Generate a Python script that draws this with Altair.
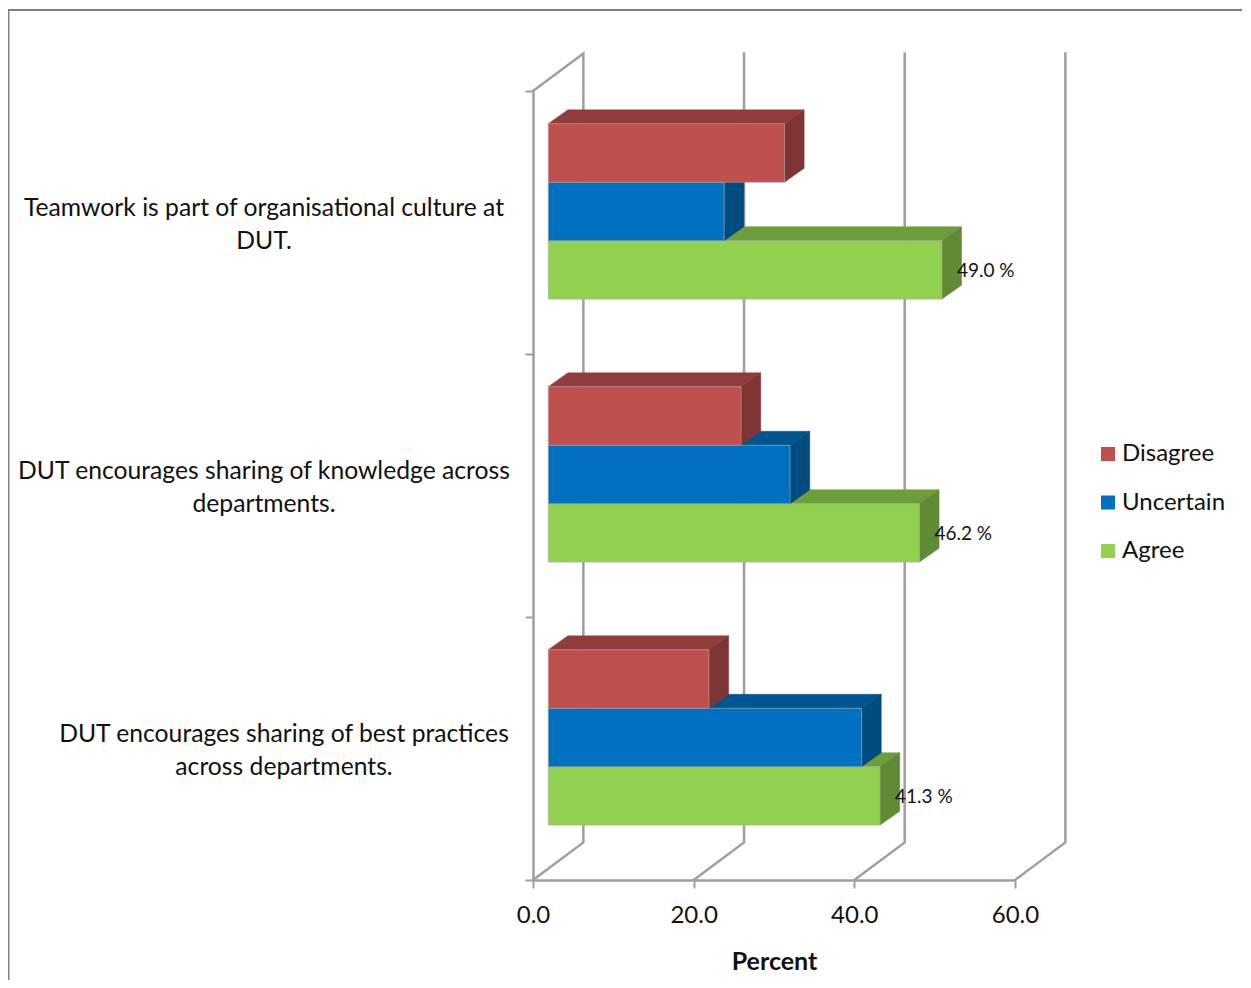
import altair as alt
import pandas as pd

# ---- values ----
questions = [
    "DUT encourages sharing of best practices|across departments.",
    "DUT encourages sharing of knowledge across|departments.",
    "Teamwork is part of organisational culture at|DUT.",
]
series = ["Disagree", "Uncertain", "Agree"]
disagree = [20.0, 24.0, 29.4]
uncertain = [39.0, 30.1, 21.9]
agree = [41.3, 46.2, 49.0]
x_ticks = [0, 20, 40, 60]
y_ticks = [0, 1, 2, 3]

front_colors = ["#C0504D", "#0070C0", "#92D050"]
top_colors = ["#8F3C3A", "#00548F", "#6E9E3C"]
side_colors = ["#7F3533", "#004B80", "#608A34"]

FONT = "Lato"
GREY = "#9F9F9F"
EDGE = "#A8A8A8"

# oblique projection, in scale units
WALL_DX, WALL_DY = 6.27, 0.143
FRONT_DX, FRONT_DY = 1.9, 0.042
BAR_DX, BAR_DY = 2.45, 0.053
BAR_H = 0.2222

W, H = 482, 789
xs = alt.Scale(domain=[0, 60], nice=False, zero=False)
ys = alt.Scale(domain=[0, 3], nice=False, zero=False)
axis_style = dict(domainColor=GREY, domainWidth=2.5, tickColor=GREY, tickWidth=2, tickSize=8, grid=False)
x_axis = alt.Axis(values=x_ticks, format=".1f", title="Percent", labelFont=FONT, labelFontSize=24,
                  labelColor="#111111", labelPadding=15, labelOverlap=False, labelFlush=False,
                  titleFont=FONT, titleFontSize=25, titleFontWeight="bold", titleColor="#111111",
                  titlePadding=22, **axis_style)
y_axis = alt.Axis(values=y_ticks, labels=False, title=None, **axis_style)
X = lambda f: alt.X(f, type="quantitative", scale=xs, axis=x_axis)
Y = lambda f: alt.Y(f, type="quantitative", scale=ys, axis=y_axis)

values = dict(zip(series, [disagree, uncertain, agree]))
rows = []
for s_i, s in enumerate(series):
    for q_i in range(3):
        c = q_i + 0.5 + FRONT_DY
        top = c + BAR_H * (1.5 - s_i)
        rows.append(dict(series=s, q=q_i, v=values[s][q_i], x0=FRONT_DX,
                         x1=FRONT_DX + values[s][q_i], y0=top - BAR_H, y1=top, yc=top - BAR_H / 2))
bars = pd.DataFrame(rows)

# back wall and floor lines
wall_rows = []
for t in x_ticks:
    pts = [(t, 0), (t + WALL_DX, WALL_DY), (t + WALL_DX, 3 + WALL_DY)]
    if t == 0:
        pts.append((0, 3))
    for o, (px, py) in enumerate(pts):
        wall_rows.append(dict(t=t, o=o, x=px, y=py))
walls = alt.Chart(pd.DataFrame(wall_rows)).mark_line(color=GREY, strokeWidth=2.5, strokeCap="square", strokeJoin="miter").encode(
    x=X("x"), y=Y("y"), detail="t:N", order="o:Q")

layers = [walls]
for s in reversed(series):
    i = series.index(s)
    d = bars[bars.series == s]
    top_rows, side_rows = [], []
    for _, r in d.iterrows():
        top_rows += [dict(q=r.q, y=r.y1, xa=r.x0, xb=r.x1),
                     dict(q=r.q, y=r.y1 + BAR_DY, xa=r.x0 + BAR_DX, xb=r.x1 + BAR_DX)]
        side_rows += [dict(q=r.q, x=r.x1, ya=r.y0, yb=r.y1),
                      dict(q=r.q, x=r.x1 + BAR_DX, ya=r.y0 + BAR_DY, yb=r.y1 + BAR_DY)]
    layers.append(alt.Chart(pd.DataFrame(top_rows)).mark_area(
        orient="horizontal", color=top_colors[i], stroke=top_colors[i], strokeWidth=0.5).encode(
        x=X("xa"), x2="xb:Q", y=Y("y"), detail="q:N"))
    layers.append(alt.Chart(pd.DataFrame(side_rows)).mark_area(
        orient="vertical", color=side_colors[i], stroke=side_colors[i], strokeWidth=0.5).encode(
        x=X("x"), y=Y("ya"), y2="yb:Q", detail="q:N"))
    layers.append(alt.Chart(d).mark_rect(stroke=EDGE, strokeWidth=0.6).encode(
        x=X("x0"), x2="x1:Q", y=Y("y0"), y2="y1:Q",
        color=alt.Color("series:N", scale=alt.Scale(domain=series, range=front_colors),
                        legend=alt.Legend(title=None, orient="none", legendX=563, legendY=351,
                                          symbolType="square", symbolSize=196, symbolStrokeWidth=0,
                                          labelFont=FONT, labelFontSize=24, labelColor="#111111",
                                          labelOffset=2, rowPadding=24.5, symbolOpacity=1))))

# value labels
labels = alt.Chart(bars[bars.series == "Agree"]).transform_calculate(
    txt="format(datum.v, '.1f') + ' %'").mark_text(
    align="left", baseline="middle", dx=15, dy=1, font=FONT, fontSize=19, color="#111111").encode(
    x=X("x1"), y=Y("yc"), text="txt:N")
layers.append(labels)

# question labels, centred under their longest line
qdf = pd.DataFrame({"label": questions, "yq": [0.5, 1.5, 2.5]})
for subset, cx in ((qdf.iloc[1:], -269), (qdf.iloc[:1], -249)):
    layers.append(alt.Chart(subset).transform_calculate(lines="split(datum.label, '|')").mark_text(
        align="center", baseline="middle", dy=-14, font=FONT, fontSize=24.7, lineHeight=33, color="#111111").encode(
        x=alt.value(cx), y=Y("yq"), text="lines:N"))

# outer frame
layers.append(alt.Chart(pd.DataFrame({"a": [0]})).mark_rule(color="#808080", strokeWidth=2).encode(
    x=alt.value(-525), x2=alt.value(710), y=alt.value(-81)))
layers.append(alt.Chart(pd.DataFrame({"a": [0]})).mark_rule(color="#808080", strokeWidth=3).encode(
    x=alt.value(-525), y=alt.value(-82), y2=alt.value(H + 110)))

chart = alt.layer(*layers).properties(
    width=W, height=H,
    padding={"left": 525, "top": 83, "right": 227, "bottom": 100},
    autosize=alt.AutoSizeParams(type="none", contains="content"),
    background="white",
).configure_view(stroke=None)

chart.save("out.html", embed_options={"renderer": "svg", "actions": False})
